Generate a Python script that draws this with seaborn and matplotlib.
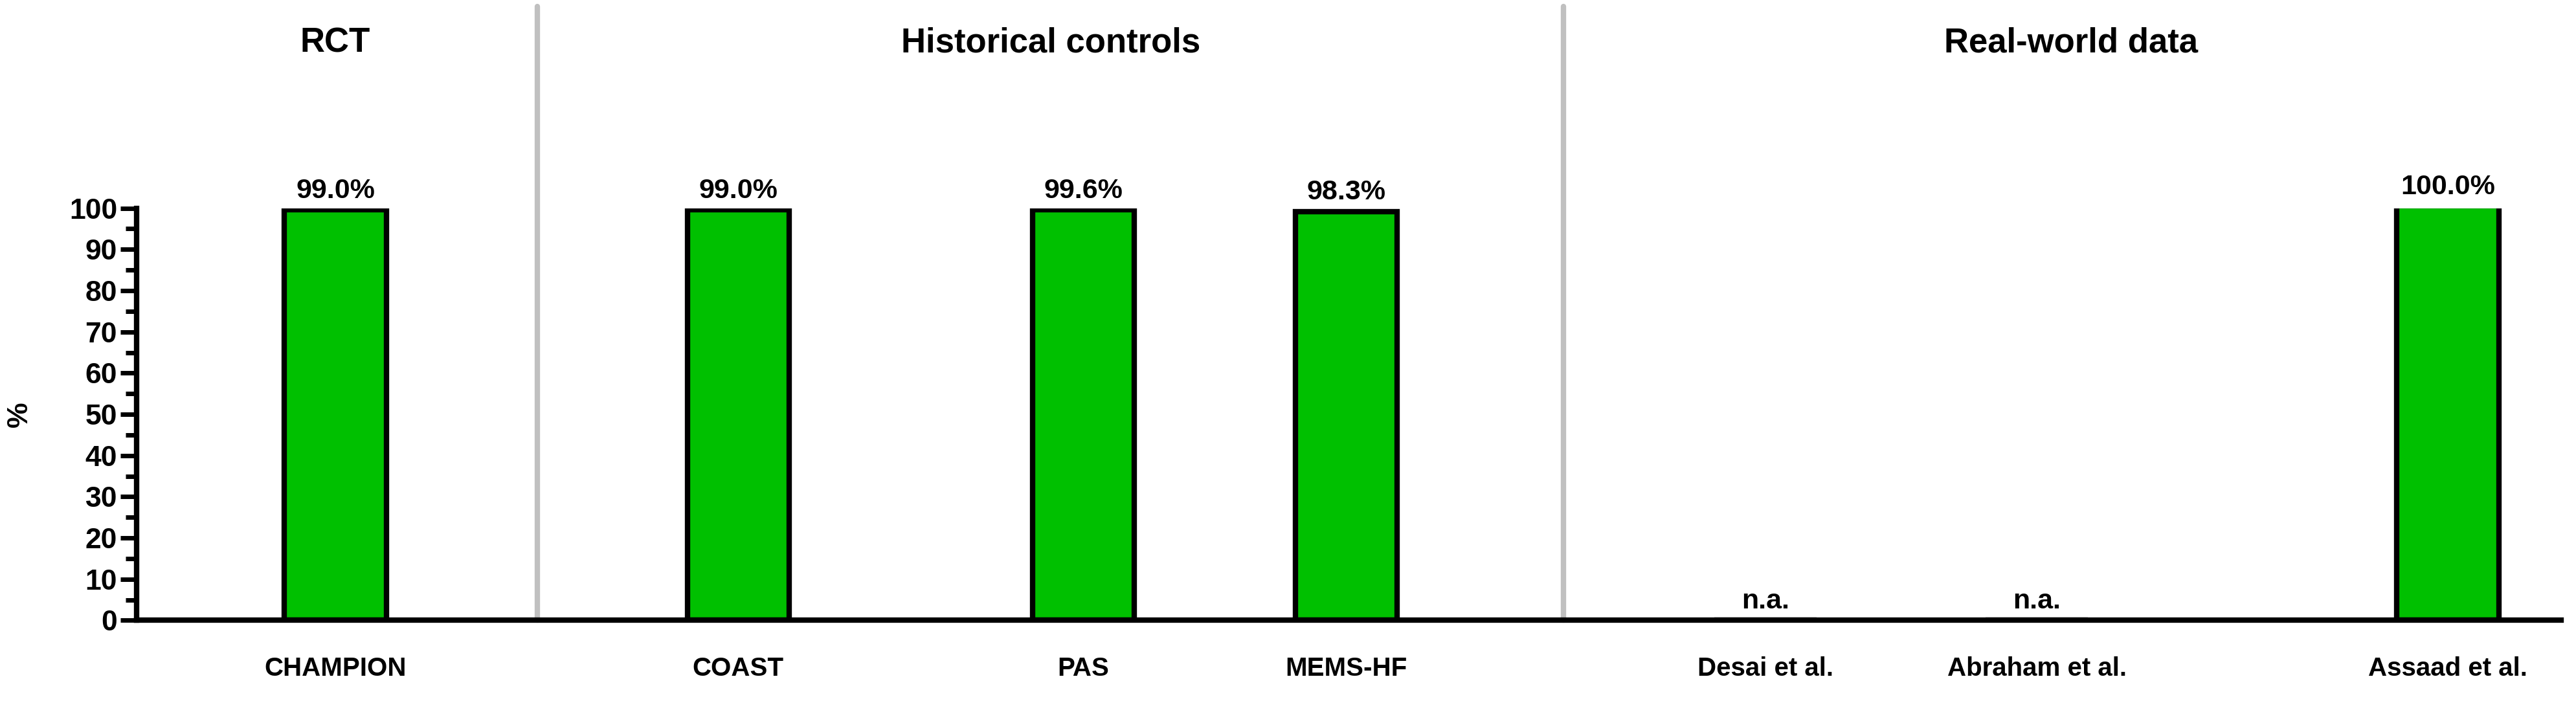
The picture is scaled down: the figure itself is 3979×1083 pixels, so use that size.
import numpy as np
import pandas as pd
import seaborn as sns
from matplotlib import pyplot as plt

studies = ['CHAMPION', 'COAST', 'PAS', 'MEMS-HF', 'Desai et al.', 'Abraham et al.', 'Assaad et al.']
pos = [204, 449, 659, 819, 1074, 1239, 1489]
values = [99.0, 99.0, 99.6, 98.3, np.nan, np.nan, 100.0]
bar_heights = [99.6, 99.6, 99.6, 99.2, 0, 0, 100.5]
labels = ['99.0%', '99.0%', '99.6%', '98.3%', 'n.a.', 'n.a.', '100.0%']
groups = ['RCT', 'Historical controls', 'Real-world data']
group_centers = [204, 639, 1260]
dividers = [327, 951]

df = pd.DataFrame({'pos': pos, 'h': bar_heights})

sns.set_style('ticks', {'text.color': 'black', 'axes.labelcolor': 'black',
                        'xtick.color': 'black', 'ytick.color': 'black',
                        'axes.edgecolor': 'black'})
plt.rcParams['font.family'] = ['Liberation Sans', 'DejaVu Sans']
plt.rcParams['font.weight'] = 'bold'

fig = plt.figure(figsize=(39.8, 10.83), dpi=100)
ax = fig.add_axes([0.053, 0.115, 0.941, 0.588])
sns.barplot(data=df, x='pos', y='h', native_scale=True, width=62 / 160, color='#00c000',
            edgecolor='black', linewidth=6, saturation=1, ax=ax)
ax.set_xlim(83, 1558)
ax.set_ylim(0, 100)
ax.set_yticks(np.arange(0, 101, 10))
ax.set_yticks(np.arange(0, 101, 5), minor=True)
ax.set_xticks(pos)
ax.set_xticklabels(studies, fontsize=29, fontweight='bold')
ax.tick_params(axis='x', length=0, pad=40)
ax.tick_params(axis='y', which='major', length=18, width=5, labelsize=32)
ax.tick_params(axis='y', which='minor', length=12, width=5)
ax.set_xlabel('')
ax.set_ylabel('%', fontsize=32, fontweight='bold', labelpad=40)
sns.despine(ax=ax)
for s in ['left', 'bottom']:
    ax.spines[s].set_linewidth(6)

for x, h, lab in zip(pos, bar_heights, labels):
    ax.text(x, h + 1.5, lab, ha='center', va='bottom', fontsize=31, fontweight='bold', clip_on=False)

for d in dividers:
    ax.plot([d, d], [0, 149], color='#c0c0c0', lw=6, clip_on=False, zorder=0)
for g, c in zip(groups, group_centers):
    ax.text(c, 140, g, ha='center', va='center', fontsize=38, fontweight='bold', clip_on=False)

fig.savefig('out.png', dpi=100)
